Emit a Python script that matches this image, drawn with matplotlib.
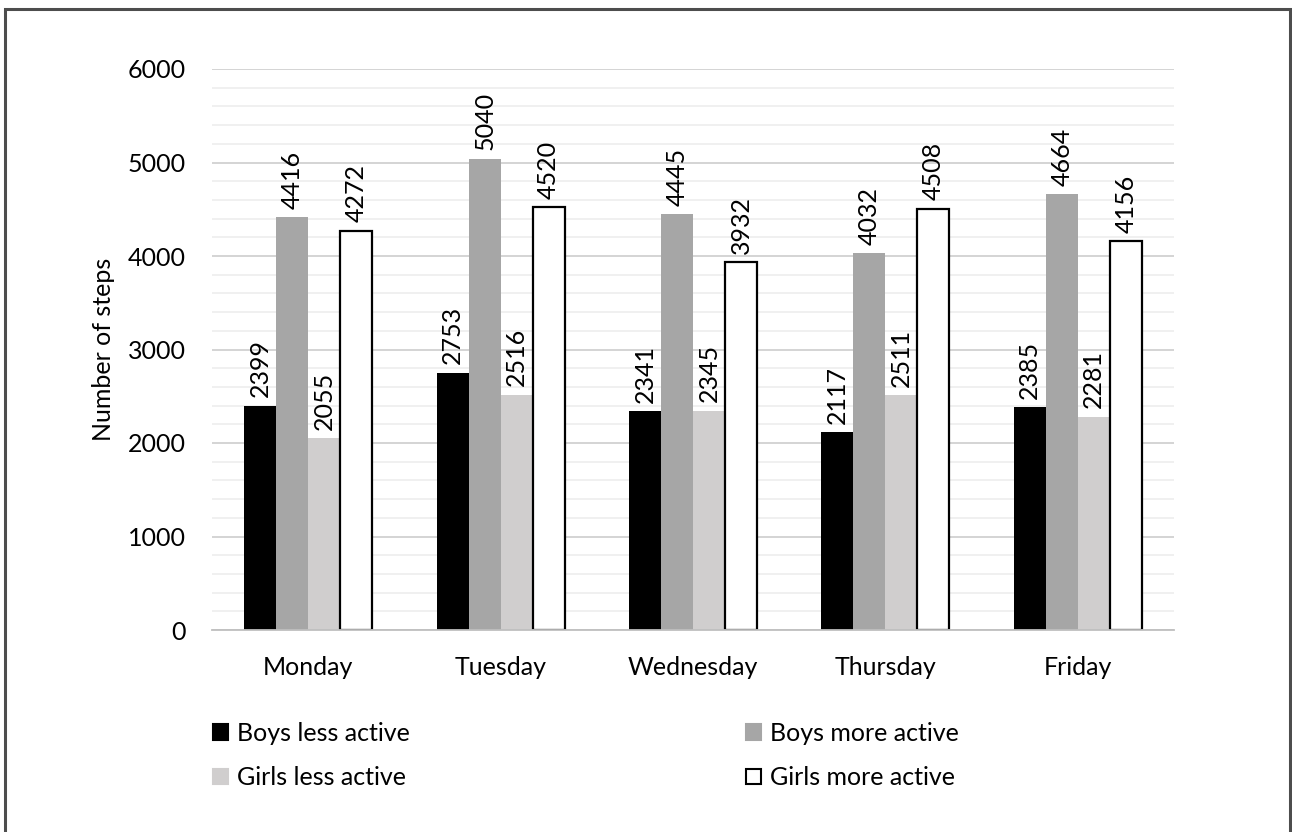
import matplotlib
matplotlib.use("Agg")
import matplotlib.pyplot as plt
import numpy as np
from matplotlib.patches import Rectangle, Patch
from matplotlib.ticker import MultipleLocator

plt.rcParams['font.family'] = ['Lato', 'DejaVu Sans']

days = ["Monday", "Tuesday", "Wednesday", "Thursday", "Friday"]
series_names = ["Boys less active", "Boys more active", "Girls less active", "Girls more active"]
boys_less = [2399, 2753, 2341, 2117, 2385]
boys_more = [4416, 5040, 4445, 4032, 4664]
girls_less = [2055, 2516, 2345, 2511, 2281]
girls_more = [4272, 4520, 3932, 4508, 4156]
yticks = [0, 1000, 2000, 3000, 4000, 5000, 6000]

series = [boys_less, boys_more, girls_less, girls_more]
colors = ["#000000", "#a6a6a6", "#d0cece", "#ffffff"]
edges = ["none", "none", "none", "#000000"]

FS = 18
W, H = 1292, 832
fig = plt.figure(figsize=(W / 100, H / 100), dpi=100)
fig.patches.append(Rectangle((5 / W, -0.01), (1290 - 5) / W, 1 - 9 / H + 0.01,
                             transform=fig.transFigure, fill=False,
                             edgecolor="#4d4d4d", linewidth=2.2))

ax = fig.add_axes([212 / W, (H - 630) / H, (1174 - 212) / W, (630 - 69) / H])
x = np.arange(len(days))
group = 0.665
bw = group / 4
for i, (vals, c, e) in enumerate(zip(series, colors, edges)):
    pos = x - group / 2 + bw * (i + 0.5)
    lw = 1.6 if e != "none" else 0
    ax.bar(pos, vals, width=bw, color=c, edgecolor=e, linewidth=lw, zorder=3)
    for p, v in zip(pos, vals):
        ax.annotate(str(v), (p, v), xytext=(0, 6), textcoords="offset points",
                    rotation=90, ha="center", va="bottom", fontsize=FS, color="#000000")

ax.set_xlim(-0.5, len(days) - 0.5)
ax.set_ylim(0, 6000)
ax.set_yticks(yticks)
ax.yaxis.set_minor_locator(MultipleLocator(200))
ax.grid(axis="y", which="major", color="#d4d4d4", linewidth=1.4, zorder=0)
ax.grid(axis="y", which="minor", color="#efefef", linewidth=1.3, zorder=0)
ax.set_axisbelow(True)
for s in ["top", "right", "left"]:
    ax.spines[s].set_visible(False)
ax.spines["bottom"].set_color("#bfbfbf")
ax.spines["bottom"].set_linewidth(1.3)
ax.spines["bottom"].set_zorder(4)
ax.tick_params(axis="both", which="both", length=0, labelsize=FS, colors="#000000")
ax.tick_params(axis="y", pad=19)
ax.tick_params(axis="x", pad=19)
ax.set_xticks(x)
ax.set_xticklabels(days)
ax.set_ylabel("Number of steps", fontsize=18, labelpad=9)

handles = [Patch(facecolor=c, edgecolor=("#000000" if e != "none" else c), linewidth=1.5)
           for c, e in zip(colors, edges)]
common = dict(loc="upper left", frameon=False, fontsize=FS, handlelength=0.6,
              handleheight=0.6, handletextpad=0.35, labelspacing=0.85,
              borderaxespad=0, borderpad=0)
fig.legend([handles[0], handles[2]], [series_names[0], series_names[2]],
           bbox_to_anchor=(213 / W, 1 - 722 / H), **common)
fig.legend([handles[1], handles[3]], [series_names[1], series_names[3]],
           bbox_to_anchor=(746 / W, 1 - 722 / H), **common)

fig.savefig("out.png", dpi=100, facecolor="white")
